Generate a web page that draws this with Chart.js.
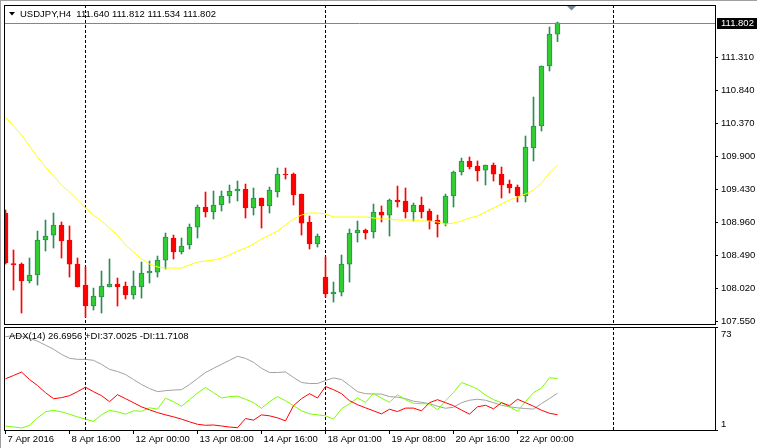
<!DOCTYPE html>
<html>
<head>
<meta charset="utf-8">
<script src="https://cdn.jsdelivr.net/npm/chart.js@4.4.0/dist/chart.umd.min.js"></script>
<style>
  body { margin: 0; background: #fff; width: 757px; height: 448px; overflow: hidden; position: relative; }
  #main-chart { position: absolute; left: 0; top: 0; }
  #adx-chart { position: absolute; left: 0; top: 326px; }
</style>
</head>
<body>
<canvas id="main-chart" width="757" height="326"></canvas>
<canvas id="adx-chart" width="757" height="122"></canvas>
<script>
// USDJPY H4 candles, 7 Apr 2016 08:00 onward
const open = [109.092,108.372,108.365,108.123,108.209,108.707,108.778,108.921,108.707,108.365,108.066,107.767,107.895,108.038,108.080,108.052,107.924,108.038,108.237,108.251,108.422,108.736,108.536,108.636,108.892,109.177,109.106,109.206,109.334,109.405,109.434,109.163,109.306,109.192,109.391,109.647,109.647,109.362,108.964,108.650,108.180,107.938,107.966,108.365,108.807,108.850,108.821,109.106,109.063,109.277,109.263,109.106,109.206,109.120,108.992,108.935,109.334,109.676,109.833,109.761,109.704,109.776,109.647,109.505,109.462,109.334,110.018,110.331,111.186,111.640];
const high = [109.135,108.565,108.380,108.451,108.835,108.992,109.092,108.964,108.907,108.451,108.323,108.023,108.266,108.437,108.166,108.109,108.266,108.394,108.408,108.479,108.807,108.778,108.736,108.935,109.206,109.391,109.405,109.405,109.491,109.548,109.505,109.448,109.306,109.462,109.733,109.733,109.662,109.362,109.049,108.793,108.465,108.109,108.494,108.864,108.978,108.864,109.220,109.192,109.291,109.476,109.448,109.234,109.320,109.149,109.063,109.362,109.690,109.875,109.890,109.833,109.776,109.804,109.747,109.562,109.491,110.189,110.744,111.186,111.741,111.812];
const low = [108.365,107.995,107.667,108.095,108.066,108.551,108.593,108.451,108.180,108.038,107.610,107.710,107.667,108.038,107.767,107.867,107.867,107.881,108.095,108.180,108.294,108.437,108.508,108.579,108.736,109.035,109.006,109.120,109.234,109.263,109.021,109.063,108.878,109.092,109.320,109.576,109.206,108.778,108.579,108.607,107.895,107.824,107.910,108.109,108.679,108.721,108.736,108.964,108.764,109.177,109.021,108.978,109.021,108.864,108.750,108.907,109.177,109.633,109.719,109.548,109.491,109.548,109.306,109.377,109.249,109.249,109.833,110.260,111.115,111.534];
const close = [108.380,108.351,108.123,108.209,108.707,108.764,108.921,108.693,108.365,108.038,107.767,107.910,108.052,108.080,108.038,107.924,108.052,108.237,108.266,108.422,108.750,108.536,108.622,108.892,109.177,109.106,109.206,109.334,109.405,109.434,109.163,109.306,109.192,109.419,109.647,109.633,109.348,108.949,108.650,108.764,107.938,107.966,108.365,108.807,108.850,108.807,109.106,109.063,109.277,109.249,109.106,109.206,109.106,108.978,108.935,109.334,109.676,109.833,109.747,109.690,109.776,109.647,109.491,109.448,109.334,110.032,110.331,111.186,111.642,111.802];
// moving average (yellow)
const ma = [110.459,110.331,110.203,110.046,109.890,109.747,109.619,109.491,109.391,109.277,109.163,109.063,108.978,108.878,108.778,108.636,108.536,108.437,108.365,108.323,108.308,108.308,108.308,108.351,108.394,108.408,108.422,108.451,108.494,108.551,108.593,108.650,108.721,108.778,108.835,108.921,109.006,109.063,109.092,109.092,109.078,109.035,109.035,109.035,109.035,109.035,109.021,109.006,109.006,108.992,108.992,108.992,108.978,108.978,108.964,108.935,108.949,108.978,109.021,109.049,109.106,109.163,109.220,109.277,109.320,109.362,109.419,109.519,109.662,109.776];
// ADX(14)
const adxMain = [66.2,67.0,66.6,65.2,63.1,60.3,57.5,53.9,51.1,50.4,50.4,49.7,46.9,43.4,41.9,39.8,36.3,32.8,30.0,27.8,28.5,28.9,29.2,32.8,37.0,41.2,44.1,46.9,49.7,52.5,51.1,48.3,44.1,41.2,41.2,41.6,37.7,34.2,33.5,33.5,35.6,37.4,36.3,32.1,27.8,26.4,26.1,26.1,24.3,24.0,22.9,21.1,20.4,19.4,17.6,16.2,16.9,20.1,21.8,22.5,21.8,20.1,18.3,17.2,16.5,16.0,15.6,19.5,23.0,26.7];
const plusDI = [3.8,3.1,2.4,4.2,9.5,13.7,14.8,13.7,12.0,10.2,8.6,7.0,11.6,14.8,13.7,12.1,14.4,14.1,16.5,15.6,23.2,20.8,17.6,22.2,26.8,30.7,27.1,23.4,24.3,24.7,22.5,20.1,16.2,20.8,24.3,21.5,18.0,14.4,12.3,11.6,10.9,8.6,15.8,19.4,23.4,20.3,26.6,23.2,20.4,25.7,22.2,19.6,19.4,19.2,15.1,21.5,27.1,34.2,32.1,29.7,25.4,22.2,20.1,17.2,14.1,20.8,27.1,30.3,37.5,37.0];
const minusDI = [36.8,39.1,41.5,36.3,32.1,27.1,22.9,23.6,25.0,27.8,30.9,27.8,25.0,20.8,25.7,22.9,20.1,17.2,15.1,13.2,11.6,10.2,8.6,6.7,5.0,4.3,4.5,3.8,3.1,2.6,9.0,7.9,11.6,10.9,9.5,7.4,18.0,22.9,26.4,23.4,31.4,29.2,26.4,21.5,18.7,16.5,14.4,12.3,15.5,13.9,16.3,16.3,14.4,20.1,22.2,20.1,18.0,14.9,12.1,17.2,18.3,15.8,20.1,18.0,22.5,20.1,17.6,14.8,12.7,11.7];
const adxReadout = ['26.6956', '37.0025', '11.7108'];

const priceTicks = [107.550,108.020,108.490,108.960,109.430,109.900,110.370,110.840,111.310];
const adxTicks = [1, 73];
const timeTickBars = [0, 8, 16, 24, 32, 40, 48, 56, 64];
const timeLabels = ['7 Apr 2016','8 Apr 16:00','12 Apr 00:00','13 Apr 08:00','14 Apr 16:00','18 Apr 01:00','19 Apr 08:00','20 Apr 16:00','22 Apr 00:00'];
const separatorBars = [10, 40, 76];
const shiftMarkBar = 70.75;

const xMin = -0.1875;
const xMax = xMin + 711 / 8;
const font = 'Liberation Sans';
const upFill = '#32cd32', upLine = '#2e8b57', downCol = '#ff0000';

const idx = open.map((o, i) => i);
const bull = open.map((o, i) => close[i] >= o);

// keep the plot areas where MT4 puts them, labels may overhang
function noPad(s) {
  s.paddingTop = 0; s.paddingBottom = 0; s.paddingLeft = 0; s.paddingRight = 0;
}

function drawSeparators(chart) {
  const c = chart.ctx, a = chart.chartArea, xs = chart.scales.x;
  c.save();
  c.strokeStyle = '#000';
  c.lineWidth = 1;
  c.setLineDash([3, 2]);
  separatorBars.forEach(b => {
    const px = Math.floor(xs.getPixelForValue(b)) + 0.5;
    c.beginPath();
    c.moveTo(px, a.top);
    c.lineTo(px, a.bottom);
    c.stroke();
  });
  c.restore();
}

function drawFrame(chart) {
  const c = chart.ctx, a = chart.chartArea;
  c.save();
  c.strokeStyle = '#000';
  c.lineWidth = 1;
  c.strokeRect(a.left + 0.5, a.top + 0.5, a.right - a.left, a.bottom - a.top);
  c.restore();
}

const mainDecor = {
  id: 'mainDecor',
  beforeDatasetsDraw(chart) {
    drawSeparators(chart);
  },
  afterDraw(chart) {
    const c = chart.ctx, a = chart.chartArea, ys = chart.scales.y, xs = chart.scales.x;
    const last = close[close.length - 1];
    const by = Math.round(ys.getPixelForValue(last)) + 0.5;
    c.save();
    // window edge
    c.strokeStyle = '#a0a0a0';
    c.beginPath();
    c.moveTo(0, 0.5); c.lineTo(757, 0.5);
    c.moveTo(0.5, 0); c.lineTo(0.5, 326);
    c.stroke();
    // bid line
    c.strokeStyle = '#7b8794';
    c.beginPath();
    c.moveTo(a.left, by); c.lineTo(a.right, by);
    c.stroke();
    c.restore();
    drawFrame(chart);
    c.save();
    // bid label
    c.fillStyle = '#000';
    c.fillRect(a.right + 2, by - 5.5, 40, 11);
    c.fillStyle = '#fff';
    c.font = '9.5px ' + font;
    c.textBaseline = 'middle';
    c.fillText(last.toFixed(3), a.right + 6, by);
    // chart shift marker
    const sx = xs.getPixelForValue(shiftMarkBar);
    c.fillStyle = '#778899';
    c.beginPath();
    c.moveTo(sx - 4.5, a.top + 1);
    c.lineTo(sx + 4.5, a.top + 1);
    c.lineTo(sx, a.top + 5.5);
    c.closePath();
    c.fill();
    // title
    c.fillStyle = '#000';
    c.beginPath();
    c.moveTo(9, 12); c.lineTo(15, 12); c.lineTo(12, 15.5);
    c.closePath();
    c.fill();
    c.font = '9.5px ' + font;
    c.textBaseline = 'middle';
    c.fillText('USDJPY,H4  ' + [open, high, low, close].map(s => s[s.length - 1].toFixed(3)).join(' '), 20, 14);
    c.restore();
  }
};

const mainChart = new Chart(document.getElementById('main-chart'), {
  type: 'bar',
  data: {
    datasets: [{
      type: 'line',
      data: idx.map(i => ({ x: i, y: ma[i] })),
      borderColor: '#ffff00',
      borderWidth: 1,
      pointRadius: 0,
      tension: 0
    }, {
      data: idx.map(i => ({ x: i, y: [open[i], close[i]] })),
      backgroundColor: bull.map(b => b ? upFill : downCol),
      borderColor: bull.map(b => b ? upLine : downCol),
      borderWidth: 1,
      borderSkipped: false,
      barThickness: 5,
      grouped: false
    }, {
      data: idx.map(i => ({ x: i, y: [low[i], high[i]] })),
      backgroundColor: bull.map(b => b ? upLine : downCol),
      barThickness: 1,
      grouped: false
    }]
  },
  options: {
    responsive: false,
    animation: false,
    layout: { padding: { left: 4, top: 5, right: 0, bottom: 2 } },
    plugins: { legend: { display: false }, tooltip: { enabled: false } },
    scales: {
      x: { type: 'linear', min: xMin, max: xMax, offset: false, display: false },
      y: {
        position: 'right',
        min: 107.511,
        max: 112.055,
        afterFit: s => { s.width = 42; noPad(s); },
        afterBuildTicks: s => { s.ticks = priceTicks.map(v => ({ value: v })); },
        border: { display: false },
        grid: { drawOnChartArea: false, tickLength: 3, color: '#000' },
        ticks: {
          color: '#000',
          padding: 3,
          font: { family: font, size: 9.5 },
          callback: v => v.toFixed(3)
        }
      }
    }
  },
  plugins: [mainDecor]
});

const adxDecor = {
  id: 'adxDecor',
  beforeDatasetsDraw(chart) {
    drawSeparators(chart);
  },
  afterDraw(chart) {
    const c = chart.ctx, a = chart.chartArea, ys = chart.scales.y;
    drawFrame(chart);
    c.save();
    c.strokeStyle = '#a0a0a0';
    c.beginPath();
    c.moveTo(0.5, 0); c.lineTo(0.5, 122);
    c.stroke();
    c.fillStyle = '#000';
    c.font = '9.5px ' + font;
    c.textBaseline = 'middle';
    c.fillText('ADX(14) ' + adxReadout[0] + ' +DI:' + adxReadout[1] + ' -DI:' + adxReadout[2], 9, 10);
    c.fillText(String(adxTicks[1]), a.right + 6, ys.getPixelForValue(adxTicks[1]) + 7);
    c.fillText(String(adxTicks[0]), a.right + 6, ys.getPixelForValue(adxTicks[0]) - 6);
    c.restore();
  }
};

const lineStyle = { borderWidth: 1, pointRadius: 0, tension: 0 };

const adxChart = new Chart(document.getElementById('adx-chart'), {
  type: 'line',
  data: {
    datasets: [
      { data: idx.map(i => ({ x: i, y: minusDI[i] })), borderColor: '#ff0000', ...lineStyle },
      { data: idx.map(i => ({ x: i, y: plusDI[i] })), borderColor: '#7cfc00', ...lineStyle },
      { data: idx.map(i => ({ x: i, y: adxMain[i] })), borderColor: '#a0a0a0', ...lineStyle }
    ]
  },
  options: {
    responsive: false,
    animation: false,
    layout: { padding: { left: 4, top: 1, right: 0, bottom: 0 } },
    plugins: { legend: { display: false }, tooltip: { enabled: false } },
    scales: {
      x: {
        type: 'linear',
        min: xMin,
        max: xMax,
        offset: false,
        afterFit: s => { s.height = 18; noPad(s); },
        afterBuildTicks: s => { s.ticks = timeTickBars.map(v => ({ value: v })); },
        border: { display: false },
        grid: { drawOnChartArea: false, tickLength: 4, color: '#000' },
        ticks: {
          color: '#000',
          align: 'start',
          labelOffset: 2,
          padding: 0,
          autoSkip: false,
          maxRotation: 0,
          minRotation: 0,
          font: { family: font, size: 9.5 },
          callback: v => timeLabels[timeTickBars.indexOf(v)]
        }
      },
      y: {
        position: 'right',
        min: 1,
        max: 73,
        afterFit: s => { s.width = 42; noPad(s); },
        afterBuildTicks: s => { s.ticks = adxTicks.map(v => ({ value: v })); },
        border: { display: false },
        grid: { drawOnChartArea: false, tickLength: 3, color: '#000' },
        ticks: { display: false }
      }
    }
  },
  plugins: [adxDecor]
});
</script>
</body>
</html>
